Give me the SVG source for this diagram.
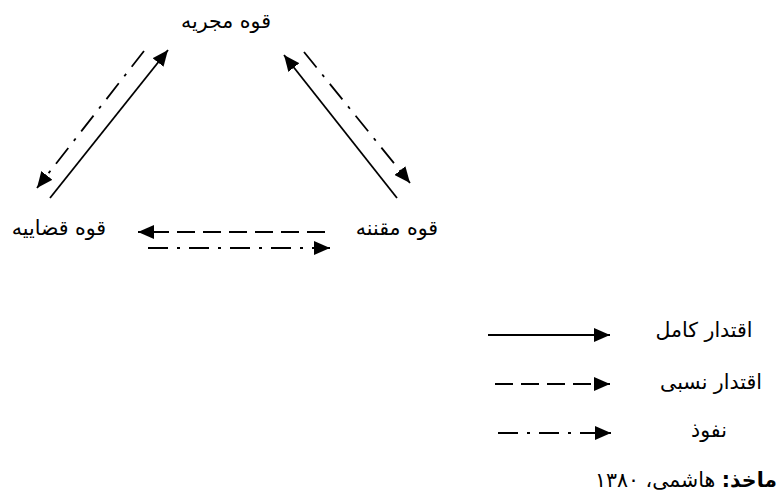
<svg xmlns="http://www.w3.org/2000/svg" width="781" height="498" viewBox="0 0 781 498">
<style>
text{font-family:"DejaVu Sans","Noto Sans",sans-serif;font-size:20.5px;fill:#000;text-anchor:middle}
.c{stroke:#000;stroke-width:1.8;fill:none;marker-end:url(#ah)}
.dash{stroke-dasharray:18 8}
.dd{stroke-dasharray:20 9 3 9}
</style>
<defs>
<marker id="ah" markerUnits="userSpaceOnUse" markerWidth="17" markerHeight="14" viewBox="0 0 17 14" refX="16" refY="7" orient="auto">
<path d="M0,0 L16,7 L0,14 z" fill="#000"/>
</marker>
</defs>
<rect width="781" height="498" fill="#fff"/>
<g id="connectors">
<line class="c" x1="50" y1="198" x2="168" y2="50"/>
<line class="c dd" x1="144" y1="51" x2="37" y2="188"/>
<line class="c" x1="397" y1="198" x2="284" y2="55"/>
<line class="c dd" x1="304" y1="52" x2="410" y2="183"/>
<line class="c dash" x1="325" y1="232" x2="138" y2="232"/>
<line class="c dd" x1="148" y1="248" x2="330" y2="248"/>
</g>
<g id="node-executive"><text x="226" y="28" direction="rtl">قوه مجریه</text></g>
<g id="node-judiciary"><text x="59" y="235" direction="rtl">قوه قضاییه</text></g>
<g id="node-legislative"><text x="397" y="235" direction="rtl">قوه مقننه</text></g>
<g id="legend">
<line class="c" x1="488" y1="335" x2="610" y2="335"/>
<line class="c dash" x1="495" y1="384" x2="610" y2="384"/>
<line class="c dd" x1="498" y1="433" x2="611" y2="433"/>
<text x="704" y="337" direction="rtl">اقتدار کامل</text>
<text x="711" y="389" direction="rtl">اقتدار نسبی</text>
<text x="709" y="437" direction="rtl">نفوذ</text>
</g>
<g id="source"><text x="686" y="487" direction="rtl" font-size="21.5"><tspan font-weight="bold">ماخذ:</tspan> هاشمی، ۱۳۸۰</text></g>
</svg>
